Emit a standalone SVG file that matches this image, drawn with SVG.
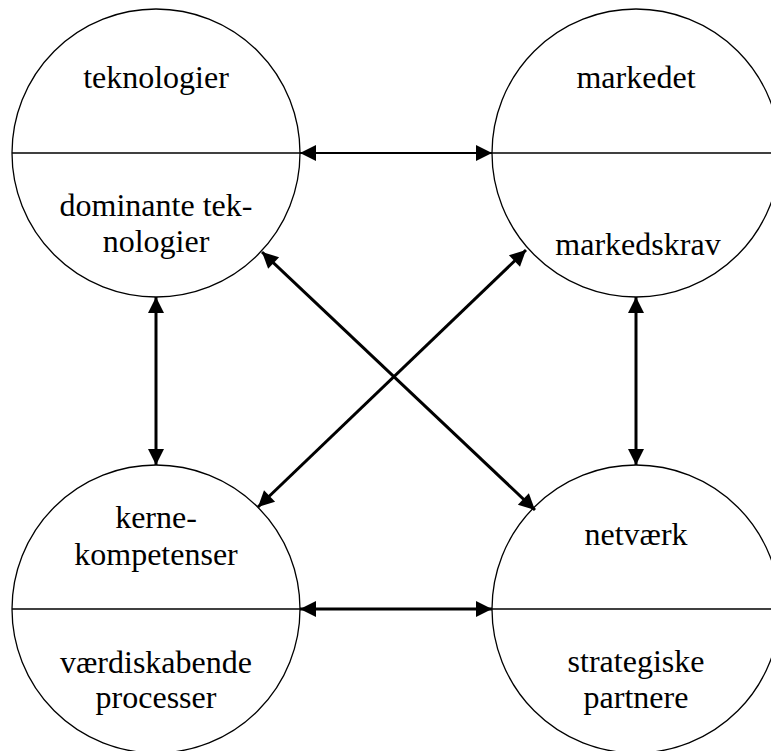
<svg xmlns="http://www.w3.org/2000/svg" width="771" height="751" viewBox="0 0 771 751">
<style>
.c{fill:#fff;stroke:#000;stroke-width:1.3}
.d{stroke:#000;stroke-width:1.3}
text{font-family:'Liberation Serif','Times New Roman',serif;font-size:32px;fill:#000;text-anchor:middle}
.a{stroke:#000;fill:none}
</style>
<defs>
<marker id="ah" markerUnits="userSpaceOnUse" markerWidth="18" markerHeight="18" viewBox="0 0 18 18" refX="17" refY="9" orient="auto-start-reverse">
<path d="M1,1 L17,9 L1,17 Z" fill="#000"/>
</marker>
</defs>
<rect width="771" height="751" fill="#fff"/>
<g id="teknologier">
<circle class="c" cx="156" cy="153" r="144"/>
<line class="d" x1="12" y1="153" x2="300" y2="153"/>
<text x="156" y="88">teknologier</text>
<text x="156" y="216">dominante tek-</text>
<text x="156" y="252">nologier</text>
</g>
<g id="markedet">
<circle class="c" cx="636" cy="153" r="144"/>
<line class="d" x1="492" y1="153" x2="780" y2="153"/>
<text x="636" y="88">markedet</text>
<text x="638" y="255">markedskrav</text>
</g>
<g id="kernekompetenser">
<circle class="c" cx="156" cy="609" r="144"/>
<line class="d" x1="12" y1="609" x2="300" y2="609"/>
<text x="156" y="528">kerne-</text>
<text x="156" y="565">kompetenser</text>
<text x="156" y="673">værdiskabende</text>
<text x="156" y="708">processer</text>
</g>
<g id="netvaerk">
<circle class="c" cx="636" cy="609" r="144"/>
<line class="d" x1="492" y1="609" x2="780" y2="609"/>
<text x="636" y="545">netværk</text>
<text x="636" y="672">strategiske</text>
<text x="636" y="708">partnere</text>
</g>
<g id="connectors">
<line class="a" stroke-width="2" x1="300" y1="153" x2="492" y2="153" marker-start="url(#ah)" marker-end="url(#ah)"/>
<line class="a" stroke-width="3" x1="300" y1="609" x2="492" y2="609" marker-start="url(#ah)" marker-end="url(#ah)"/>
<line class="a" stroke-width="3" x1="156" y1="297" x2="156" y2="465" marker-start="url(#ah)" marker-end="url(#ah)"/>
<line class="a" stroke-width="3" x1="636" y1="297" x2="636" y2="465" marker-start="url(#ah)" marker-end="url(#ah)"/>
<line class="a" stroke-width="3" x1="262" y1="252" x2="535" y2="510" marker-start="url(#ah)" marker-end="url(#ah)"/>
<line class="a" stroke-width="3" x1="258" y1="507" x2="526" y2="250" marker-start="url(#ah)" marker-end="url(#ah)"/>
</g>
</svg>
